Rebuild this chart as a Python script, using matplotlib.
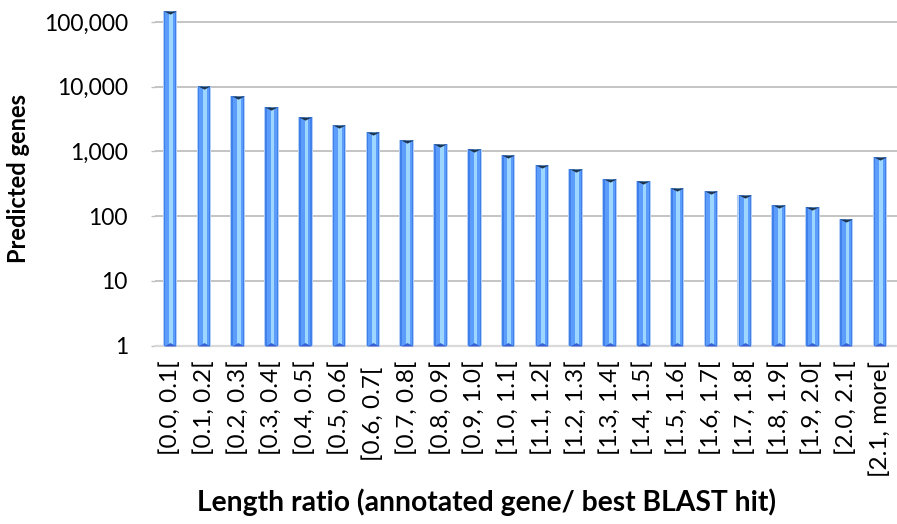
import numpy as np
import matplotlib
matplotlib.use("Agg")
import matplotlib.pyplot as plt
from matplotlib.ticker import FixedLocator, FuncFormatter, NullLocator

plt.rcParams['font.family'] = ['Lato', 'DejaVu Sans']

# Length-ratio bins and predicted gene counts per bin
categories = ["[0.0, 0.1[", "[0.1, 0.2[", "[0.2, 0.3[", "[0.3, 0.4[", "[0.4, 0.5[",
              "[0.5, 0.6[", "[0.6, 0.7[ ", "[0.7, 0.8[", "[0.8, 0.9[", "[0.9, 1.0[",
              "[1.0, 1.1[", "[1.1, 1.2[", "[1.2, 1.3[", "[1.3, 1.4[", "[1.4, 1.5[",
              "[1.5, 1.6[", "[1.6, 1.7[", "[1.7, 1.8[", "[1.8, 1.9[", "[1.9, 2.0[",
              "[2.0, 2.1[", "[2.1, more["]
genes = [150000, 10400, 7150, 4800, 3450, 2600, 1980, 1510, 1310, 1080,
         870, 620, 535, 370, 352, 268, 245, 213, 148, 139, 90, 815]

y_ticks = [1, 10, 100, 1000, 10000, 100000]

fig = plt.figure(figsize=(8.97, 5.24), dpi=100)
ax = fig.add_axes([155 / 897, 1 - 345.5 / 524, 1 - 155 / 897, 345.5 / 524])

x = np.arange(len(categories))
vals = np.array(genes, dtype=float)
base = 1.0
heights = vals - base

# Layered bars give the bevelled, cylinder-like look
layers = [
    (0.43, 0.00, '#b3cff6'),
    (0.37, 0.00, '#3f80ea'),
    (0.29, 0.01, '#5c9dfb'),
    (0.11, 0.035, '#9dd7ff'),
]
for w, off, col in layers:
    ax.bar(x + off, heights, bottom=base, width=w, color=col, linewidth=0, zorder=3)

# Dark end cap on top, darker blue wedge at the base
top_cap = [(-1, 0), (1, 0), (0, -0.5), (-1, 0)]
bot_cap = [(-1, 0), (1, 0), (0, 0.55), (-1, 0)]
ax.plot(x, vals, linestyle='none', marker=top_cap, markersize=9.0,
        markerfacecolor='#1d3550', markeredgewidth=0, zorder=4)
ax.plot(x, np.full(len(x), base), linestyle='none', marker=bot_cap, markersize=9.0,
        markerfacecolor='#3760d6', markeredgewidth=0, zorder=4)

ax.set_yscale('log')
ax.set_ylim(1, 10 ** (5 + 22 / 64.6))
ax.set_xlim(-0.444, len(categories) - 1 + 0.503)

ax.yaxis.set_major_locator(FixedLocator(y_ticks))
ax.yaxis.set_minor_locator(NullLocator())
ax.yaxis.set_major_formatter(FuncFormatter(lambda v, p: f"{v:,.0f}"))
ax.grid(axis='y', color='#bfbfbf', linewidth=1.3, zorder=0)
ax.set_axisbelow(True)

ax.set_xticks(x)
ax.set_xticklabels(categories, rotation=90, va='top', ha='center')

for s in ['top', 'right', 'left']:
    ax.spines[s].set_visible(False)
ax.spines['bottom'].set_color('#d9d9d9')
ax.spines['bottom'].set_linewidth(1.6)
ax.spines['bottom'].set_zorder(2)

ax.tick_params(axis='y', length=3, width=1, color='#bfbfbf', pad=16.5,
               labelsize=16.5, labelcolor='#000000')
ax.tick_params(axis='x', length=0, pad=11, labelsize=17.5, labelcolor='#000000')

fig.text(486 / 897, 1 - 502 / 524, "Length ratio (annotated gene/ best BLAST hit)",
         ha='center', va='center', fontsize=20.3, fontweight='bold')
fig.text(19 / 897, 1 - 178 / 524, "Predicted genes", rotation=90,
         ha='center', va='center', fontsize=17, fontweight='bold')

fig.savefig("out.png", dpi=100, facecolor='white')
